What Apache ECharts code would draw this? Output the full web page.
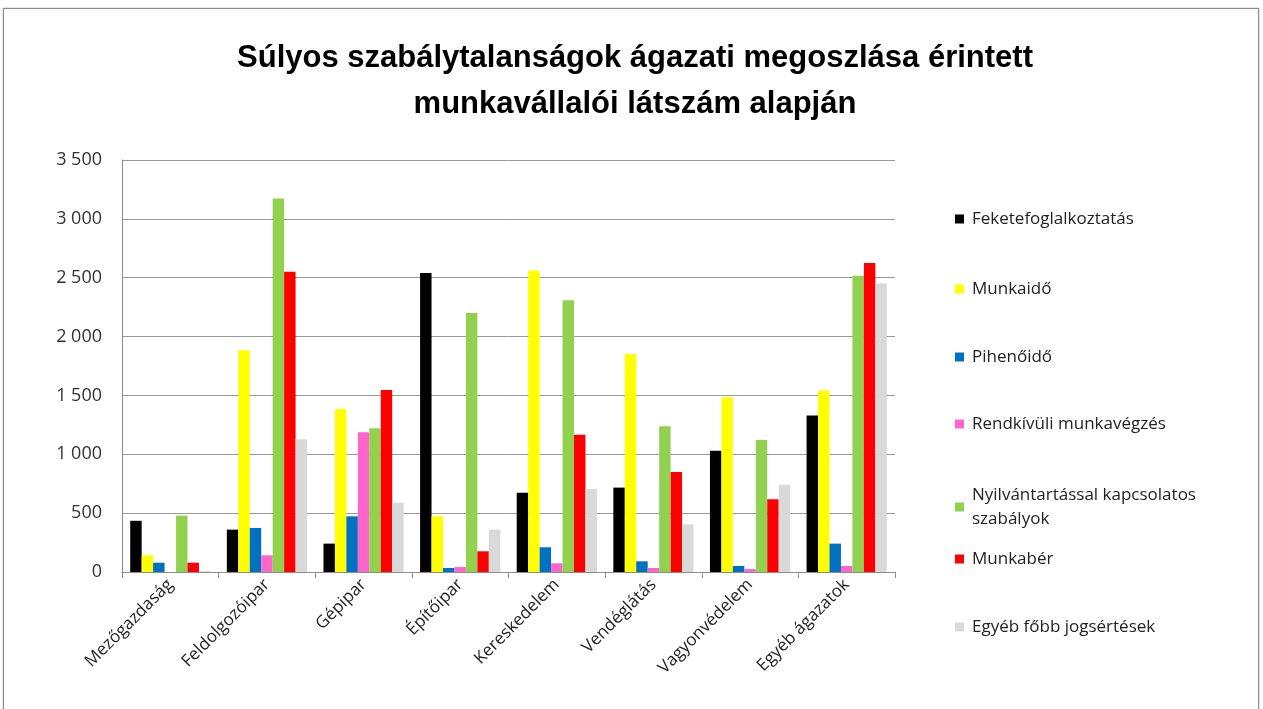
<!DOCTYPE html>
<html lang="hu">
<head>
    <meta charset="UTF-8">
    <title>Súlyos szabálytalanságok ágazati megoszlása</title>
    <script src="https://cdn.jsdelivr.net/npm/echarts@6/dist/echarts.min.js"></script>
    <style>
        body {
            margin: 0;
            padding: 0;
            background: #ffffff;
            overflow: hidden;
        }
        #frame {
            position: absolute;
            left: 3px;
            top: 8px;
            width: 1254px;
            height: 720px;
            border: 1px solid #8c8c8c;
            box-shadow: 0 0 2px #bbb;
        }
        #chart {
            position: absolute;
            left: 0;
            top: 0;
            width: 1263px;
            height: 709px;
        }
    </style>
</head>
<body>
<div id="frame"></div>
<div id="chart"></div>

<script>
    // Ágazatok
    const categories = ['Mezőgazdaság', 'Feldolgozóipar', 'Gépipar', 'Építőipar',
        'Kereskedelem', 'Vendéglátás', 'Vagyonvédelem', 'Egyéb ágazatok'];

    const seriesNames = ['Feketefoglalkoztatás', 'Munkaidő', 'Pihenőidő', 'Rendkívüli munkavégzés',
        'Nyilvántartással kapcsolatos szabályok', 'Munkabér', 'Egyéb főbb jogsértések'];

    // Értékek (leolvasva)
    const feketefoglalkoztatas = [435, 360, 241, 2541, 674, 717, 1031, 1329];
    const munkaido = [142, 1884, 1385, 473, 2561, 1853, 1485, 1541];
    const pihenoido = [79, 374, 473, 34, 210, 91, 51, 241];
    const rendkivuli = [0, 142, 1187, 42, 74, 34, 25, 51];
    const nyilvantartas = [479, 3173, 1221, 2201, 2309, 1238, 1122, 2516];
    const munkaber = [79, 2550, 1547, 176, 1167, 850, 618, 2626];
    const egyeb = [8, 1128, 589, 360, 705, 405, 742, 2451];

    const yTicks = [0, 500, 1000, 1500, 2000, 2500, 3000, 3500];

    const values = [feketefoglalkoztatas, munkaido, pihenoido, rendkivuli, nyilvantartas, munkaber, egyeb];
    const colors = ['#000000', '#ffff00', '#0070c0', '#ff66cc', '#92d050', '#ff0000', '#d9d9d9'];

    const chart = echarts.init(document.getElementById('chart'));
    const font = '"Open Sans", "Liberation Sans", sans-serif';

    // jelmagyarázat tételenként, hogy a sortörés helyét tartani lehessen
    const legendTops = [202, 272, 340, 407, 478, 542, 610];
    const legends = seriesNames.map((name, i) => ({
        data: [name],
        orient: 'vertical',
        left: 950,
        top: legendTops[i],
        itemWidth: 9,
        itemHeight: 9,
        icon: 'rect',
        selectedMode: false,
        formatter: n => n === 'Nyilvántartással kapcsolatos szabályok'
            ? 'Nyilvántartással kapcsolatos\nszabályok' : n,
        textStyle: {
            fontFamily: font,
            fontSize: 17,
            color: '#222',
            lineHeight: 24,
            padding: [0, 0, 0, 3]
        }
    }));

    const option = {
        animation: false,
        color: colors,
        title: {
            text: 'Súlyos szabálytalanságok ágazati megoszlása érintett\nmunkavállalói látszám alapján',
            left: 630,
            textAlign: 'center',
            top: 30,
            textStyle: {
                fontFamily: '"Liberation Sans", sans-serif',
                fontWeight: 'bold',
                fontSize: 31,
                lineHeight: 46,
                color: '#000'
            }
        },
        legend: legends,
        grid: {
            left: 122,
            right: 368,
            top: 160,
            bottom: 137
        },
        xAxis: {
            type: 'category',
            data: categories,
            axisLine: { lineStyle: { color: '#8c8c8c', width: 1 } },
            axisTick: { show: true, length: 6, lineStyle: { color: '#8c8c8c' } },
            axisLabel: {
                rotate: 45,
                interval: 0,
                margin: 10,
                fontFamily: font,
                fontSize: 17,
                color: '#222',
                padding: [0, 0, 0, 0]
            }
        },
        yAxis: {
            type: 'value',
            min: 0,
            max: 3500,
            interval: 500,
            axisLine: { show: true, lineStyle: { color: '#8c8c8c' } },
            axisTick: { show: false },
            splitLine: { lineStyle: { color: '#9a9a9a', width: 1 } },
            axisLabel: {
                margin: 20,
                fontFamily: font,
                fontSize: 18,
                color: '#333',
                formatter: v => yTicks.includes(v) ? String(v).replace(/\B(?=(\d{3})+(?!\d))/g, ' ') : ''
            }
        },
        series: seriesNames.map((name, i) => ({
            name: name,
            type: 'bar',
            data: values[i],
            barGap: '0%',
            barCategoryGap: '17%',
            itemStyle: { color: colors[i] }
        }))
    };

    chart.setOption(option);
</script>
</body>
</html>
